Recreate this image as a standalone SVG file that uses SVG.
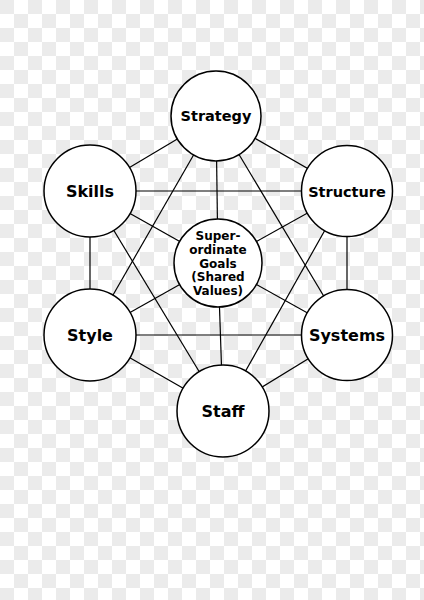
<svg xmlns="http://www.w3.org/2000/svg" width="424" height="600" viewBox="0 0 424 600">
<defs>
<pattern id="chk" width="28" height="28" patternUnits="userSpaceOnUse">
<rect width="28" height="28" fill="#ffffff"/>
<rect width="14" height="14" fill="#ebebeb"/>
<rect x="14" y="14" width="14" height="14" fill="#ebebeb"/>
</pattern>
<style>
.n{fill:#fff;stroke:#000;stroke-width:1.5}
.e line{stroke:#000;stroke-width:1.2}
text{font-family:"DejaVu Sans","Liberation Sans",sans-serif;font-weight:bold;text-anchor:middle;fill:#000}
.big{font-size:16px}
.mid{font-size:14.5px}
.sm{font-size:12px}
</style>
</defs>
<rect width="424" height="600" fill="url(#chk)"/>
<g id="connectors" class="e">
<line x1="216" y1="116" x2="90" y2="191"/>
<line x1="216" y1="116" x2="347" y2="191"/>
<line x1="216" y1="116" x2="90" y2="335"/>
<line x1="216" y1="116" x2="347" y2="335"/>
<line x1="216" y1="116" x2="218" y2="263"/>
<line x1="90" y1="191" x2="347" y2="191"/>
<line x1="90" y1="191" x2="90" y2="335"/>
<line x1="90" y1="191" x2="223" y2="411"/>
<line x1="90" y1="191" x2="218" y2="263"/>
<line x1="347" y1="191" x2="347" y2="335"/>
<line x1="347" y1="191" x2="223" y2="411"/>
<line x1="347" y1="191" x2="218" y2="263"/>
<line x1="90" y1="335" x2="347" y2="335"/>
<line x1="90" y1="335" x2="223" y2="411"/>
<line x1="90" y1="335" x2="218" y2="263"/>
<line x1="347" y1="335" x2="223" y2="411"/>
<line x1="347" y1="335" x2="218" y2="263"/>
<line x1="223" y1="411" x2="218" y2="263"/>
</g>
<g id="strategy"><circle class="n" cx="216" cy="116" r="45"/><text class="mid" x="216" y="121">Strategy</text></g>
<g id="skills"><circle class="n" cx="90" cy="191" r="46"/><text class="big" x="90" y="197">Skills</text></g>
<g id="structure"><circle class="n" cx="347" cy="191" r="45.5"/><text class="mid" x="347" y="196.5">Structure</text></g>
<g id="goals"><circle class="n" cx="218" cy="263" r="44"/>
<text class="sm" x="218" y="240">Super-</text>
<text class="sm" x="218" y="254">ordinate</text>
<text class="sm" x="218" y="267.5">Goals</text>
<text class="sm" x="218" y="281">(Shared</text>
<text class="sm" x="218" y="295">Values)</text></g>
<g id="style"><circle class="n" cx="90" cy="335" r="46"/><text class="big" x="90" y="340.5">Style</text></g>
<g id="systems"><circle class="n" cx="347" cy="335" r="45.5"/><text class="big" x="347" y="340.5">Systems</text></g>
<g id="staff"><circle class="n" cx="223" cy="411" r="46"/><text class="big" x="223" y="416.5">Staff</text></g>
</svg>
